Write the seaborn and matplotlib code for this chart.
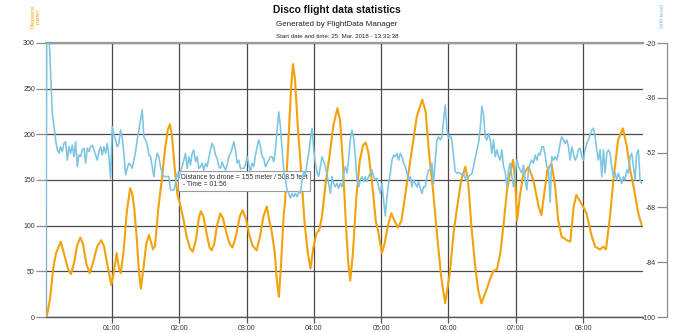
import matplotlib
matplotlib.use("Agg")
import numpy as np
import pandas as pd
import seaborn as sns
import matplotlib.pyplot as plt
from matplotlib.ticker import FuncFormatter

# ---------------- data ----------------
TITLE = "Disco flight data statistics"
SUBTITLE = "Generated by FlightData Manager"
START_TEXT = "Start date and time: 25. Mar. 2018 - 13:33:38"
TOOLTIP = "Distance to drone = 155 meter / 508.5 feet\n - Time = 01:56"

x_ticks_min = [1, 2, 3, 4, 5, 6, 7, 8]
dist_ticks = [0, 50, 100, 150, 200, 250, 300]
wifi_ticks = [-100, -84, -68, -52, -36, -20]

# distance to drone (meter) vs. time (minutes)
dist_time_min = [
    0.03, 0.08, 0.13, 0.17, 0.24, 0.30, 0.35, 0.39, 0.44, 0.48, 0.53, 0.57, 0.62, 0.67,
    0.72, 0.78, 0.84, 0.88, 0.93, 0.99, 1.03, 1.07, 1.10, 1.13, 1.17, 1.22, 1.27, 1.30,
    1.33, 1.37, 1.40, 1.43, 1.47, 1.51, 1.55, 1.58, 1.61, 1.64, 1.69, 1.74, 1.79, 1.83,
    1.86, 1.89, 1.93, 1.97, 2.01, 2.06, 2.11, 2.16, 2.20, 2.25, 2.29, 2.32, 2.36, 2.41,
    2.45, 2.48, 2.52, 2.56, 2.61, 2.65, 2.70, 2.75, 2.79, 2.84, 2.90, 2.94, 2.99, 3.04,
    3.09, 3.15, 3.20, 3.25, 3.30, 3.34, 3.37, 3.42, 3.45, 3.48, 3.51, 3.55, 3.57, 3.62,
    3.66, 3.69, 3.72, 3.76, 3.81, 3.86, 3.91, 3.95, 3.99, 4.04, 4.08, 4.12, 4.18, 4.23,
    4.29, 4.35, 4.39, 4.43, 4.47, 4.51, 4.54, 4.58, 4.63, 4.68, 4.73, 4.77, 4.81, 4.86,
    4.92, 4.96, 5.01, 5.05, 5.10, 5.15, 5.20, 5.25, 5.30, 5.37, 5.45, 5.53, 5.61, 5.66,
    5.71, 5.77, 5.83, 5.89, 5.95, 6.02, 6.08, 6.13, 6.19, 6.25, 6.29, 6.34, 6.39, 6.44,
    6.49, 6.57, 6.62, 6.67, 6.72, 6.77, 6.82, 6.87, 6.91, 6.96, 6.99, 7.02, 7.06, 7.11,
    7.19, 7.26, 7.34, 7.38, 7.43, 7.47, 7.53, 7.58, 7.63, 7.68, 7.76, 7.81, 7.86, 7.90,
    7.98, 8.05, 8.13, 8.18, 8.25, 8.30, 8.34, 8.40, 8.45, 8.52, 8.59, 8.65, 8.70, 8.75,
    8.82, 8.87,
]
dist_m = [
    0, 20, 55, 70, 82.5, 66, 52, 47, 60, 78, 87, 80, 58, 48,
    60, 77, 84, 78, 58, 35, 50, 70, 55, 48, 70, 115, 141, 135,
    120, 85, 50, 31, 55, 80, 90, 82, 74, 78, 120, 150, 185, 205,
    211, 200, 165, 135, 124, 108, 88, 75, 71.5, 85, 108, 116, 110, 90,
    76, 73, 80, 100, 113.5, 108, 92, 80, 76, 88, 110, 117, 108, 90,
    78, 73, 88, 110, 121, 105, 95, 70, 40, 22, 55, 110, 125, 190,
    250, 277, 260, 210, 160, 105, 70, 53, 75, 92, 95, 110, 150, 175,
    210, 228.5, 215, 170, 110, 60, 40, 70, 130, 170, 188, 191, 180, 150,
    105, 92, 70, 80, 100, 113.5, 105, 98, 105, 140, 180, 220, 238, 225,
    180, 139, 90, 45, 15, 48, 95, 121, 150, 164.5, 150, 100, 60, 30,
    15, 31, 42, 50.5, 52, 70, 102.5, 139, 155.5, 172, 150, 106, 132, 155.5,
    164.5, 150, 121, 111.7, 139, 161, 168, 146, 106, 88, 84, 82.5, 121, 133.6,
    123.6, 113.5, 88, 77, 74, 77, 74, 110, 150, 194, 206.6, 186.5, 161, 142.7,
    113.5, 100.7,
]

# wifi level (dBm): start of the recording, then the regularly sampled trace
wifi_head_min = [0.015, 0.03, 0.07]
wifi_head_dbm = [-100, -20, -20]
wifi_start_min = 0.089
wifi_end_min = 8.871
wifi_dbm = [
    -28.8, -40.5, -44.4, -48.3, -51.2, -52.2, -50.3, -51.7, -49.3, -48.8, -54.2, -50.3,
    -52.2, -49.8, -53.2, -48.8, -56.1, -52.7, -53.2, -51.2, -50.7, -55.1, -50.7, -51.7,
    -50.3, -49.8, -51.2, -52.7, -54.2, -51.7, -50.3, -52.7, -50.3, -52.2, -49.3, -53.2,
    -59.5, -44.4, -46.9, -48.3, -50.3, -49.3, -45.4, -47.8, -52.2, -58.5, -56.6, -55.1,
    -55.6, -56.6, -54.2, -51.7, -48.3, -45.4, -42.5, -39.5, -47.5, -48.3, -49.8, -52.7,
    -53.2, -56.1, -59.0, -54.7, -52.2, -53.2, -56.1, -58.0, -59.0, -59.0, -59.0, -59.0,
    -62.9, -62.9, -62.9, -61.0, -58.0, -59.5, -57.5, -56.1, -54.2, -52.2, -56.6, -53.2,
    -55.6, -52.2, -51.2, -54.7, -53.2, -56.6, -56.1, -55.1, -57.1, -55.1, -56.1, -53.7,
    -51.2, -49.3, -50.3, -52.7, -53.7, -56.1, -56.6, -54.7, -56.1, -57.1, -55.6, -53.2,
    -52.2, -50.7, -48.8, -51.2, -55.1, -54.2, -56.6, -56.6,
    -56.6, -55.6, -53.2, -55.6, -57.6, -55.1, -56.1, -52.7, -50.3, -48.3, -50.3, -53.2,
    -53.7, -56.1, -55.1, -54.2, -53.2, -53.2, -54.7, -51.2, -45.4, -40.1, -44.4, -51.2,
    -57.1, -60.0, -62.9, -63.9, -65.3, -63.9, -64.9, -63.9, -64.9, -63.4, -63.9, -60.0,
    -57.6, -58.5, -55.1, -52.2, -48.3, -44.9, -51.2, -55.1, -57.6, -59.0, -56.1, -53.2,
    -54.7, -56.1, -58.5, -61.0, -63.9, -59.0, -61.0, -62.0, -61.0, -62.4, -61.0, -62.0,
    -58.0, -56.1, -58.0, -53.7, -48.3, -45.4, -47.8, -53.2, -60.0, -62.0, -60.0, -59.0,
    -60.5, -59.0, -60.5, -59.0, -58.0, -57.1, -59.0, -60.0, -59.5, -62.0, -63.9, -61.0,
    -66.0, -70.5, -65.0, -61.0, -58.0, -54.2, -52.7, -53.2, -52.2, -54.2, -52.2, -53.2,
    -55.1, -56.1, -58.0, -60.0, -59.0, -62.0, -60.0, -61.0, -62.0, -60.5, -62.4, -63.9,
    -62.0, -62.0, -59.0, -57.1, -57.1, -55.1, -61.0, -54.2, -48.3, -47.4, -48.3,
    -47.4, -42.5, -38.1, -45.0, -47.8, -47.0, -48.5, -53.0, -57.5, -58.0, -57.8, -58.0,
    -58.5, -58.0, -59.5, -60.3, -59.0, -58.5, -58.2, -56.0, -53.5, -51.3, -49.2, -45.0,
    -38.5, -41.0, -47.4, -48.3, -46.4, -48.3, -52.2, -48.3, -53.2, -51.2, -53.2, -54.2,
    -51.2, -56.1, -57.6, -62.0, -57.1, -55.1, -59.0, -62.0, -58.0, -54.2, -56.1, -57.1,
    -58.0, -55.6, -60.0, -62.9, -57.1, -55.1, -54.2, -55.1, -52.7, -54.2, -52.2, -52.7,
    -50.3, -50.3, -52.7, -56.1, -56.6, -66.5, -53.2, -54.2, -53.2, -54.2, -52.2, -49.3,
    -47.4, -48.3, -49.3, -48.3, -50.3, -54.2, -50.3, -52.2, -54.2, -53.2, -51.2, -50.7,
    -53.2, -54.2, -51.2, -49.3, -48.3, -46.9, -45.4, -44.9, -47.4, -51.2, -54.2, -51.2,
    -59.0, -51.2, -58.0, -52.2, -51.2, -52.2, -56.1, -59.0, -58.0, -60.0, -58.0, -59.5,
    -61.0, -59.0, -60.0, -57.1, -58.0, -53.2, -52.2, -56.1, -60.0, -52.2, -51.2, -60.0,
    -61.0,
]

ORANGE = "#f2a20c"
BLUE = "#7cc5e3"

dist_df = pd.DataFrame({"t": dist_time_min, "d": dist_m})
wifi_t = list(wifi_head_min) + list(np.linspace(wifi_start_min, wifi_end_min, len(wifi_dbm)))
wifi_df = pd.DataFrame({"t": wifi_t, "w": list(wifi_head_dbm) + list(wifi_dbm)})

# ---------------- figure ----------------
sns.set_theme(style="white")
plt.rcParams["font.family"] = ["Liberation Sans", "DejaVu Sans"]
plt.rcParams["axes.unicode_minus"] = False

W, H = 690, 333
fig = plt.figure(figsize=(W / 100, H / 100), dpi=100)
L, R, T, B = 46, 643, 43, 317
AX_RECT = [L / W, 1 - B / H, (R - L) / W, (B - T) / H]
ax = fig.add_axes(AX_RECT)
ax2 = ax.twinx()

sns.lineplot(data=dist_df, x="t", y="d", ax=ax, color=ORANGE, lw=1.5,
             estimator=None, sort=False, zorder=3)
sns.lineplot(data=wifi_df, x="t", y="w", ax=ax2, color=BLUE, lw=1.15,
             estimator=None, sort=False, zorder=3)

ax.set_xlim(0.02, 8.89)
ax.set_ylim(0, 300)
ax2.set_ylim(-100, -20)
for a in (ax, ax2):
    a.set_xlabel("")
    a.set_ylabel("")

ax.set_xticks(x_ticks_min)
ax.xaxis.set_major_formatter(FuncFormatter(lambda v, p: f"{int(round(v)):02d}:00"))
ax.set_yticks(dist_ticks)

ax.grid(True, color="#4a4a4a", lw=0.9)
ax.set_axisbelow(True)

ax.spines["right"].set_visible(False)
ax.spines["top"].set_color("#9a9a9a")
ax.spines["top"].set_linewidth(1.6)
ax.spines["left"].set_color("#8a8a8a")
ax.spines["left"].set_linewidth(0.9)
ax.spines["bottom"].set_color("#555555")
ax.spines["bottom"].set_linewidth(1.0)

# twin axes only carries the wifi line
for s in ax2.spines.values():
    s.set_visible(False)
ax2.tick_params(axis="y", left=False, right=False, labelleft=False, labelright=False)

# separate scale for the wifi level, placed right of the plot area
ax3 = fig.add_axes([667 / W, 1 - B / H, 0.0001, (B - T) / H])
ax3.set_ylim(ax2.get_ylim())
ax3.set_yticks(wifi_ticks)
ax3.set_xticks([])
ax3.patch.set_visible(False)
for s in ["top", "bottom", "right"]:
    ax3.spines[s].set_visible(False)
ax3.spines["left"].set_color("#8a8a8a")
ax3.spines["left"].set_linewidth(0.9)

ax.tick_params(axis="y", direction="out", length=7, width=0.9, color="#8a8a8a",
               labelsize=5, labelcolor="#333333", pad=1)
ax.tick_params(axis="x", direction="out", length=4, width=0.9, color="#555555",
               labelsize=5, labelcolor="#333333", pad=1.5, bottom=True)
ax3.tick_params(axis="y", left=True, right=False, labelleft=True, labelright=False,
                direction="out", length=7, width=0.9, color="#8a8a8a",
                labelsize=5, labelcolor="#333333", pad=1)

# titles
cx = 337 / W
fig.text(cx, 1 - 10 / H, TITLE, ha="center", va="center", fontsize=7.4, fontweight="bold", color="#111111")
fig.text(cx, 1 - 24 / H, SUBTITLE, ha="center", va="center", fontsize=5.8, color="#222222")
fig.text(cx, 1 - 36 / H, START_TEXT, ha="center", va="center", fontsize=4.45, color="#222222")

# axis titles
fig.text(35.5 / W, 1 - 16 / H, "Distance\nmeter", rotation=90, ha="center", va="center",
         multialignment="center", fontsize=4.3, color=ORANGE, linespacing=1.0)
fig.text(663 / W, 1 - 16 / H, "Wifi level", rotation=90, ha="center", va="center",
         fontsize=4.3, color=BLUE)

# tooltip
ax.text(2.02, 157, TOOLTIP, ha="left", va="top", fontsize=4.85, color="#333333",
        zorder=10, linespacing=1.15,
        bbox=dict(boxstyle="square,pad=0.35", fc="white", ec="#9a9a9a", lw=0.8))

fig.savefig("out.png", dpi=100)
